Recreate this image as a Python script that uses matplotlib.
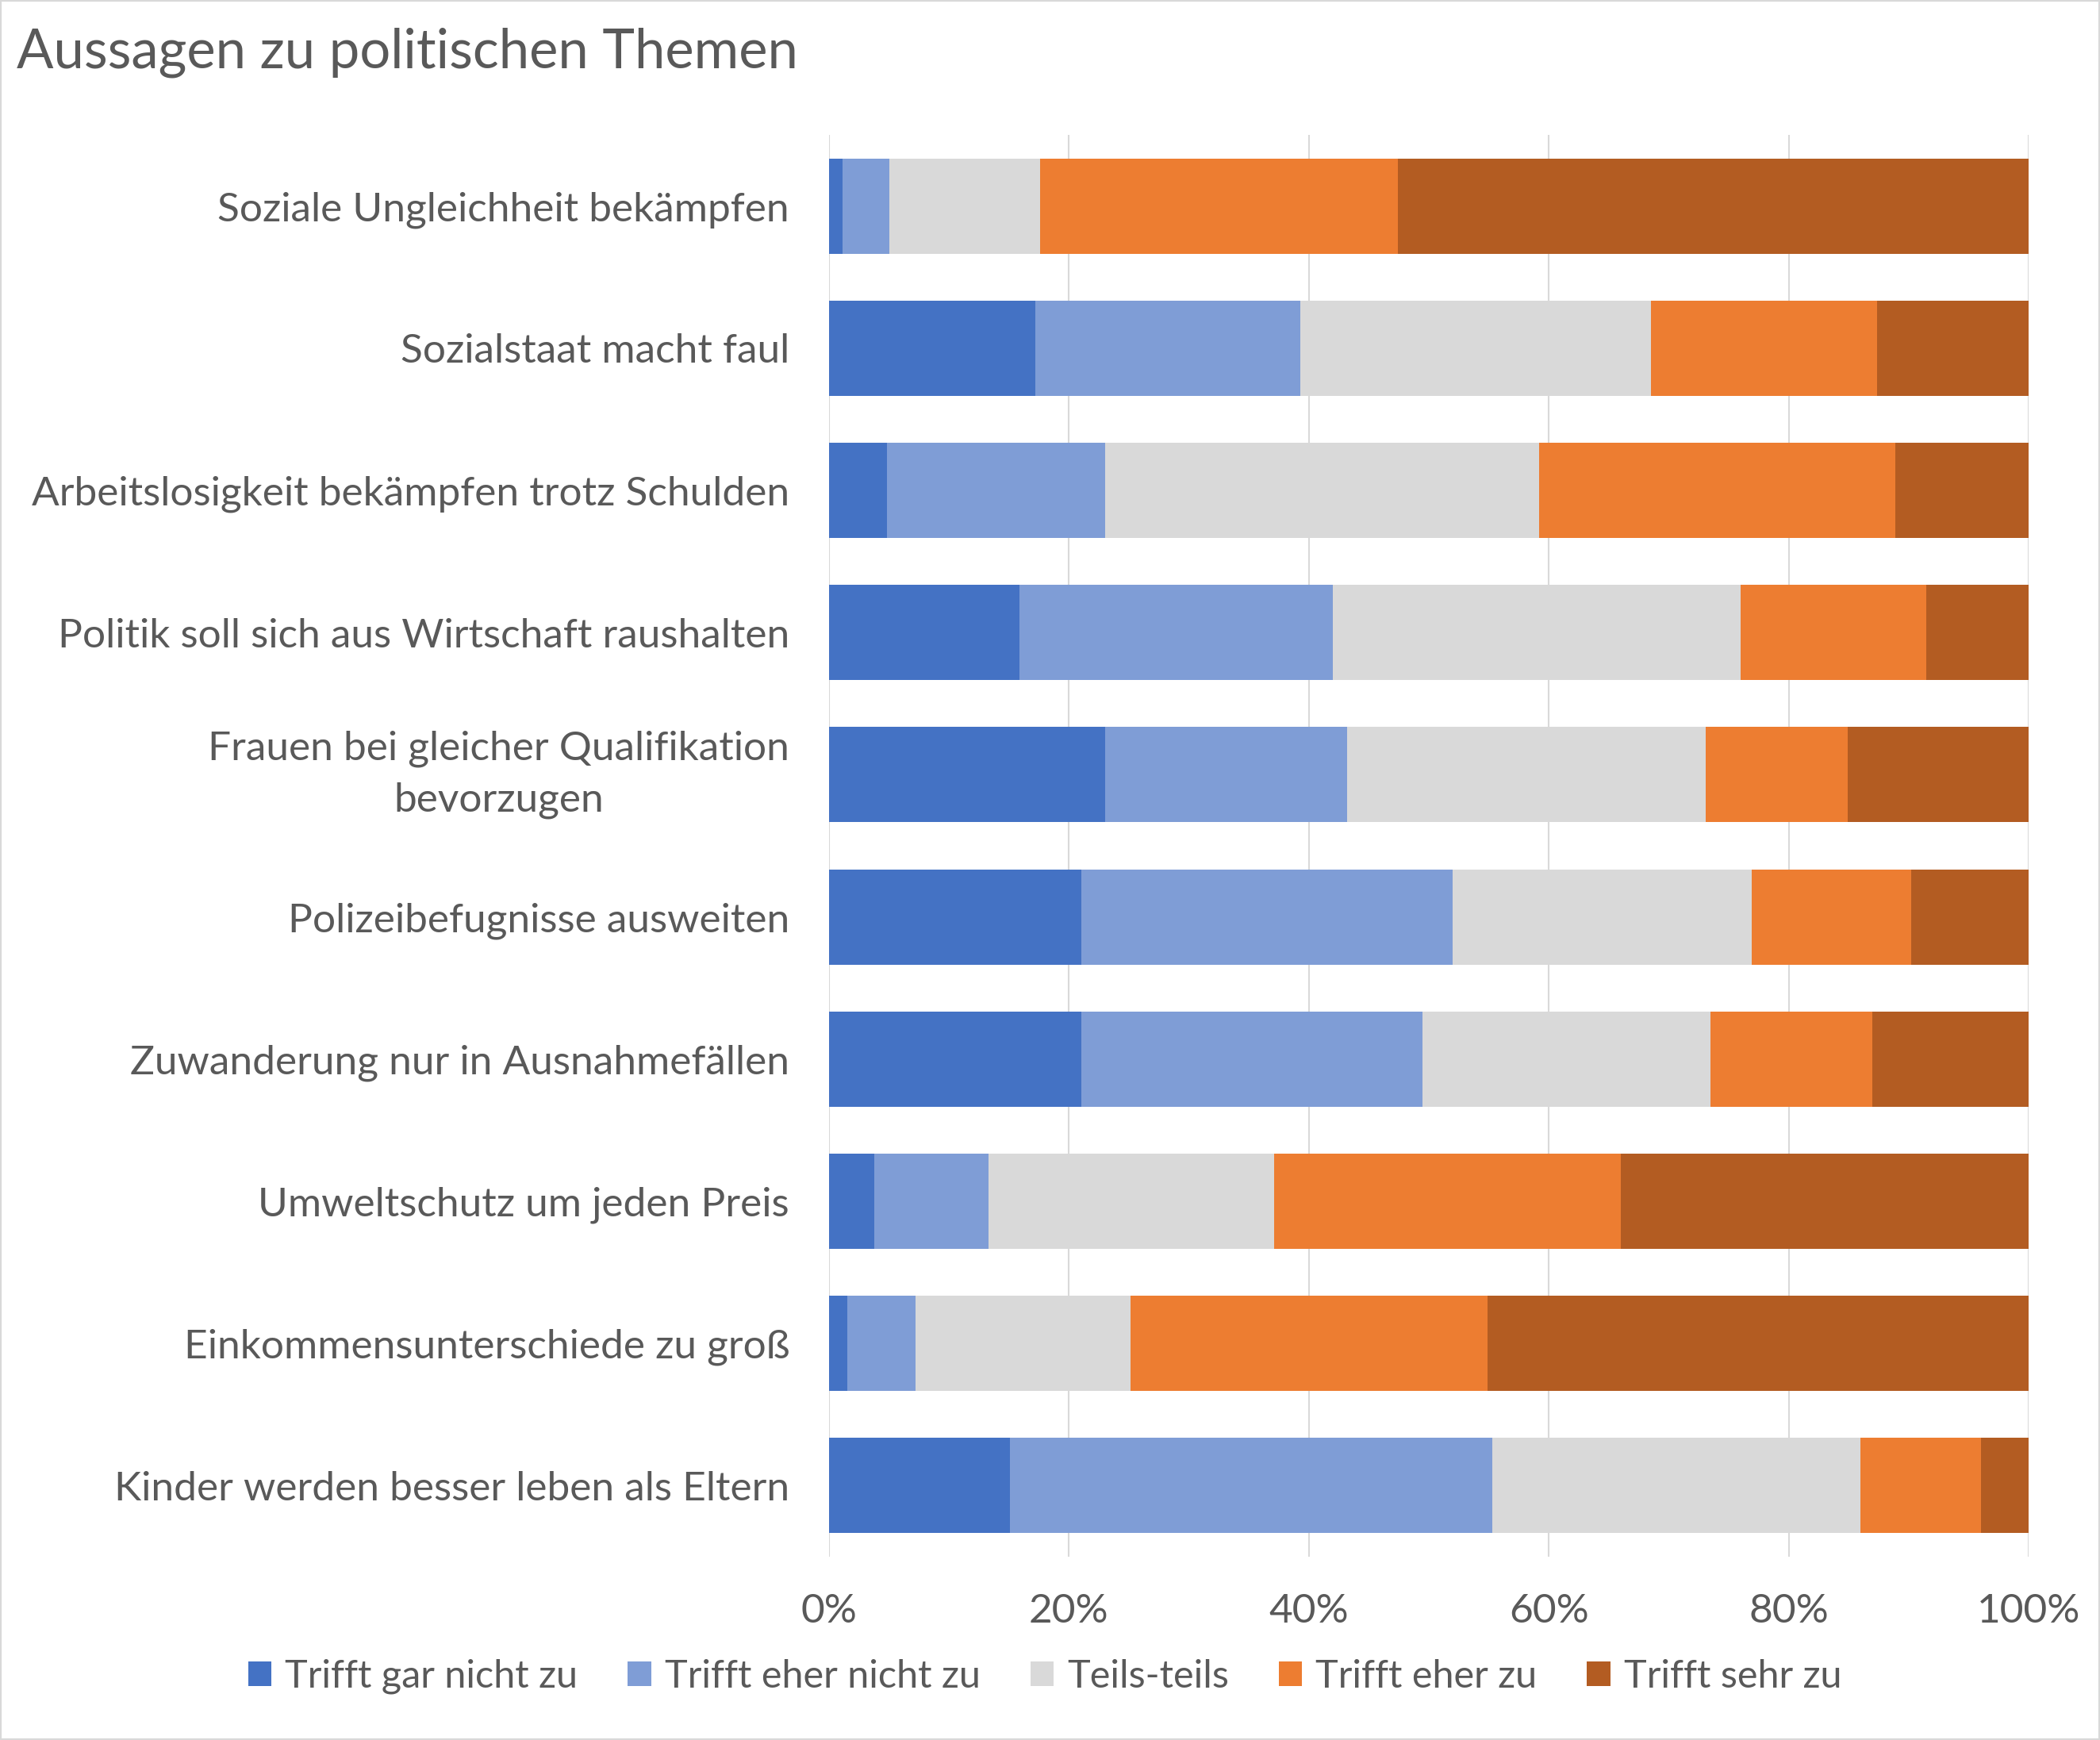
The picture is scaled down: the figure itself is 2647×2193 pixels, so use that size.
import matplotlib.pyplot as plt
from matplotlib.patches import Rectangle, Patch
import numpy as np

plt.rcParams['font.family'] = ['Lato', 'DejaVu Sans']

# Aussagen (von oben nach unten)
statements = [
    'Soziale Ungleichheit bekämpfen',
    'Sozialstaat macht faul',
    'Arbeitslosigkeit bekämpfen trotz Schulden',
    'Politik soll sich aus Wirtschaft raushalten',
    'Frauen bei gleicher Qualifikation\nbevorzugen',
    'Polizeibefugnisse ausweiten',
    'Zuwanderung nur in Ausnahmefällen',
    'Umweltschutz um jeden Preis',
    'Einkommensunterschiede zu groß',
    'Kinder werden besser leben als Eltern',
]

# Anteile in Prozent
gar_nicht = [1.1, 17.2, 4.8, 15.9, 23.0, 21.0, 21.0, 3.8, 1.5, 15.1]
eher_nicht = [3.9, 22.1, 18.2, 26.1, 20.2, 31.0, 28.5, 9.5, 5.7, 40.2]
teils = [12.6, 29.2, 36.2, 34.0, 29.9, 24.9, 24.0, 23.8, 17.9, 30.7]
eher_zu = [29.8, 18.9, 29.7, 15.5, 11.8, 13.3, 13.5, 28.9, 29.8, 10.0]
sehr_zu = [52.6, 12.6, 11.1, 8.5, 15.1, 9.8, 13.0, 34.0, 45.1, 4.0]

series_names = ['Trifft gar nicht zu', 'Trifft eher nicht zu', 'Teils-teils',
                'Trifft eher zu', 'Trifft sehr zu']
colors = ['#4472C4', '#7F9DD6', '#D9D9D9', '#ED7D31', '#B35C22']
ticks = [0, 20, 40, 60, 80, 100]
tick_labels = ['0%', '20%', '40%', '60%', '80%', '100%']

text_col = '#595959'

W, H = 2647, 2193
fig = plt.figure(figsize=(W / 100, H / 100), dpi=100)
ax = fig.add_axes([1045 / W, 1 - 1962 / H, (2557 - 1045) / W, (1962 - 170) / H])

y = np.arange(len(statements))
left = np.zeros(len(statements))
for vals, name, col in zip([gar_nicht, eher_nicht, teils, eher_zu, sehr_zu], series_names, colors):
    ax.barh(y, vals, left=left, height=0.67, color=col, label=name, zorder=3)
    left += np.array(vals)

ax.set_xlim(0, 100)
ax.set_ylim(len(statements) - 0.5, -0.5)
ax.set_yticks(y)
ax.set_yticklabels(statements, fontsize=37, color=text_col, multialignment='center',
                   linespacing=1.5)
ax.set_xticks(ticks)
ax.set_xticklabels(tick_labels, fontsize=37, color=text_col)
ax.tick_params(axis='both', length=0)
ax.tick_params(axis='x', pad=33)
ax.tick_params(axis='y', pad=0)

for lab in ax.get_yticklabels():
    lab.set_x(-0.033)
    lab.set_ha('right')
    if '\n' in lab.get_text():
        lab.set_va('center')

ax.grid(axis='x', color='#D9D9D9', lw=1.5, zorder=0)
for s in ax.spines.values():
    s.set_visible(False)

fig.text(21 / W, 1 - 86 / H, 'Aussagen zu politischen Themen', fontsize=49.5,
         color=text_col, ha='left', va='baseline')

handles = [Patch(facecolor=c) for c in colors]
fig.legend(handles, series_names, loc='center', bbox_to_anchor=(1317 / W, 1 - 2113 / H),
           ncol=5, frameon=False, fontsize=35, labelcolor=text_col,
           handlelength=0.6, handleheight=0.6, handletextpad=0.35, columnspacing=1.3)

fig.patches.append(Rectangle((0, 0), 1, 1, transform=fig.transFigure, fill=False,
                             edgecolor='#D9D9D9', lw=3))

fig.savefig('out.png', dpi=100, facecolor='white')
